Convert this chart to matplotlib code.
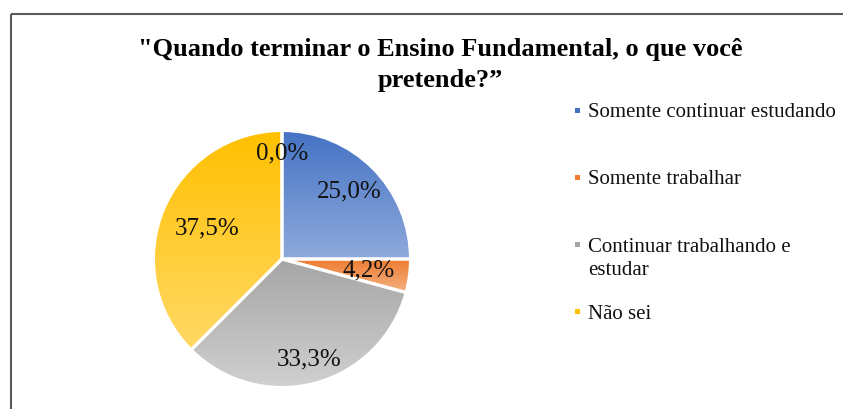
import matplotlib
matplotlib.use("Agg")
import matplotlib.pyplot as plt
import numpy as np
from matplotlib.colors import to_rgb
from matplotlib.lines import Line2D
from matplotlib.patches import Rectangle

plt.rcParams['font.family'] = ['Liberation Serif', 'DejaVu Serif']

# --- dados ---
categorias = ["Somente continuar estudando", "Somente trabalhar",
              "Continuar trabalhando e\nestudar", "Não sei"]
percentuais = [25.0, 4.2, 33.3, 37.5, 0.0]   # 5º ponto vazio (0,0%) sem legenda
cor_topo = ["#4472C4", "#ED7D31", "#A5A5A5", "#FFC000", "#5B9BD5"]
cor_base = ["#8FAADC", "#F4B183", "#D0D0D0", "#FFD966", "#9DC3E6"]
dist_rotulo = [0.74, 0.68, 0.81, 0.63, 0.82]
titulo = "\"Quando terminar o Ensino Fundamental, o que você\npretende?\u201d"

W, H = 843, 409
fig = plt.figure(figsize=(W / 100, H / 100), dpi=100)
fig.patch.set_facecolor("white")

# moldura (só topo e esquerda visíveis no recorte)
fig.add_artist(Line2D([10.5 / W, 1.01], [1 - 14 / H, 1 - 14 / H], color="#5a5a5a",
                      lw=1.5, solid_capstyle="butt"))
fig.add_artist(Line2D([10.5 / W, 10.5 / W], [-0.01, 1 - 14 / H], color="#5a5a5a",
                      lw=1.5, solid_capstyle="butt"))

fig.text(440 / W, 1 - 65 / H, titulo, ha="center", va="center",
         fontsize=19, fontweight="bold", linespacing=1.45)

# --- pizza ---
cx, cy, R = 282, 259, 128.5
ax = fig.add_axes([(cx - R) / W, (H - cy - R) / H, 2 * R / W, 2 * R / H])
ax.axis("off")

wedges, _ = ax.pie(percentuais, startangle=90, counterclock=False, radius=1,
                   wedgeprops=dict(edgecolor="white", linewidth=2.2),
                   colors=cor_topo)

for i, w in enumerate(wedges):
    if percentuais[i] <= 0:
        continue
    ext = w.get_path().get_extents()
    c0 = np.array(to_rgb(cor_topo[i]))
    c1 = np.array(to_rgb(cor_base[i]))
    t = np.linspace(0, 1, 256)[:, None, None]
    grad = c0 * (1 - t) + c1 * t
    grad = np.repeat(grad, 2, axis=1)
    im = ax.imshow(grad, extent=(ext.x0, ext.x1, ext.y0, ext.y1), origin="upper",
                   aspect="auto", interpolation="bilinear", zorder=1)
    im.set_clip_path(w)
    w.set_zorder(2)
    w.set_facecolor("none")
    w.set_clip_on(False)

total = sum(percentuais)
ang = 90.0
for i, v in enumerate(percentuais):
    frac = v / total
    meio = np.deg2rad(ang - frac * 360 / 2)
    ang -= frac * 360
    r = dist_rotulo[i]
    txt = f"{v:.1f}%".replace(".", ",")
    ax.text(r * np.cos(meio), r * np.sin(meio), txt, ha="center", va="center",
            fontsize=18, color="#111111", zorder=5)

ax.set_xlim(-1, 1)
ax.set_ylim(-1, 1)

# --- legenda ---
for i, nome in enumerate(categorias):
    y = 110 + i * 67.3
    fig.add_artist(Rectangle((575 / W, 1 - (y + 2.5) / H), 5 / W, 5 / H,
                             facecolor=cor_topo[i], edgecolor="none",
                             transform=fig.transFigure))
    fig.text(588 / W, 1 - (y - 7) / H, nome, ha="left", va="top",
             fontsize=15, color="#111111", linespacing=1.3)

fig.savefig("out.png", dpi=100, facecolor="white")
